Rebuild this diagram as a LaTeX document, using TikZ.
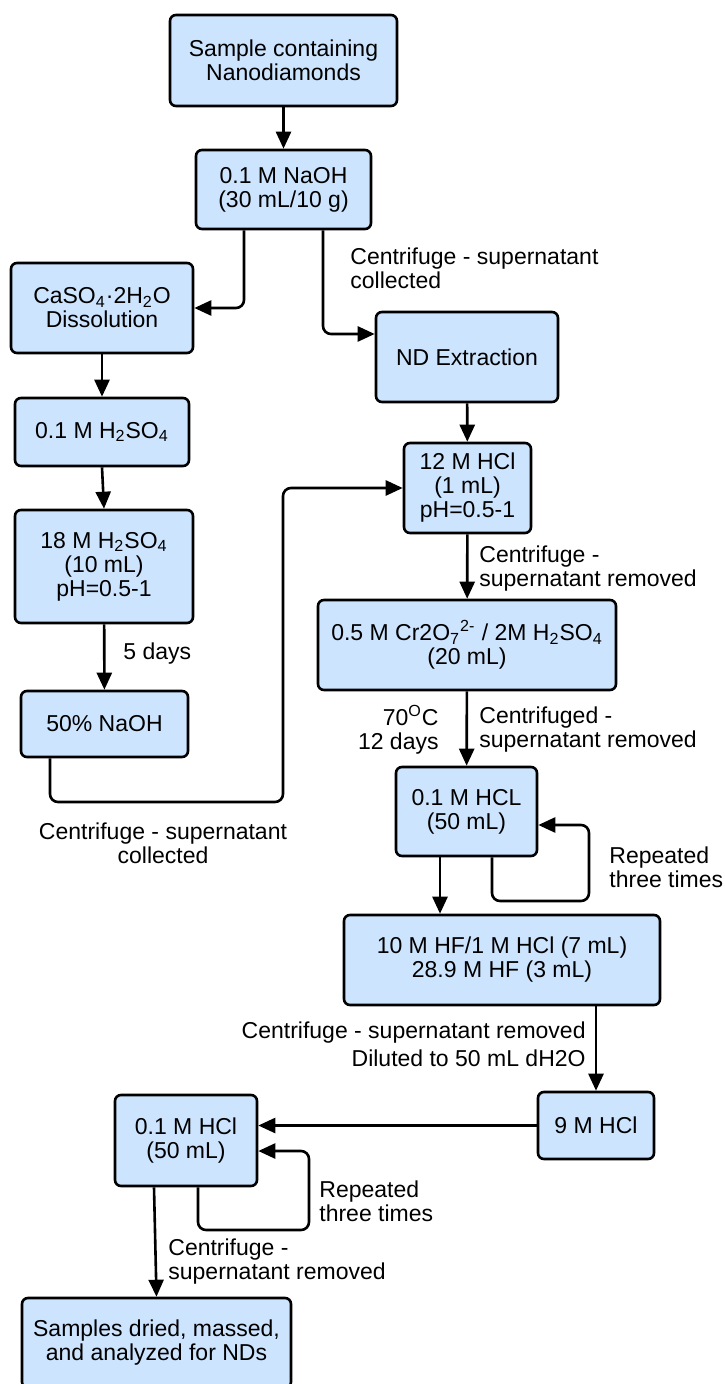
\documentclass[tikz,border=0pt]{standalone}
\usepackage{fontspec}
\setmainfont{Liberation Sans}
\usetikzlibrary{arrows.meta, calc}

\definecolor{boxblue}{RGB}{204,228,253}

\begin{document}
\begin{tikzpicture}[x=0.5pt, y=-0.5pt,
  every node/.style={font=\fontsize{11.5}{12}\selectfont},
  box/.style={draw, line width=1.3pt, rounded corners=3pt, fill=boxblue, align=center, inner sep=0pt},
  flow/.style={line width=1.3pt, rounded corners=4pt, -{Triangle[length=8.5pt,width=7.5pt]}},
  note/.style={align=left, inner sep=0pt, anchor=west}]

\clip (0,0) rectangle (724,1384);
\fill[white] (0,0) rectangle (724,1384);

% start
\node[box, minimum width=113.5pt, minimum height=45.5pt] (sample) at (283.5,60.5) {Sample containing\\Nanodiamonds};
\node[box, minimum width=87.5pt, minimum height=39.5pt] (naoh) at (283.5,189.5) {0.1 M NaOH\\(30 mL/10 g)};

% left branch
\node[box, minimum width=91pt, minimum height=45pt] (caso) at (102,308) {CaSO\textsubscript{4}·2H\textsubscript{2}O\\Dissolution};
\node[box, minimum width=87pt, minimum height=34pt] (hsoa) at (102,432) {0.1 M H\textsubscript{2}SO\textsubscript{4}};
\node[box, minimum width=89pt, minimum height=56.5pt] (hsob) at (104,566.5) {18 M H\textsubscript{2}SO\textsubscript{4}\\(10 mL)\\pH=0.5-1};
\node[box, minimum width=83.5pt, minimum height=33pt] (naohb) at (104.5,724) {50\% NaOH};

% right branch
\node[box, minimum width=91pt, minimum height=45pt] (ndx) at (467,357) {ND Extraction};
\node[box, minimum width=63.5pt, minimum height=45pt] (hcla) at (467.5,488) {12 M HCl\\(1 mL)\\pH=0.5-1};
\node[box, minimum width=149pt, minimum height=45pt] (crox) at (467,645) {0.5 M Cr2O\textsubscript{7}\textsuperscript{2-} / 2M H\textsubscript{2}SO\textsubscript{4}\\(20 mL)};
\node[box, minimum width=70.5pt, minimum height=44.5pt] (hclb) at (466.5,811.5) {0.1 M HCL\\(50 mL)};
\node[box, minimum width=158pt, minimum height=45pt] (hf) at (502,960) {10 M HF/1 M HCl (7 mL)\\28.9 M HF (3 mL)};
\node[box, minimum width=58pt, minimum height=33.5pt] (hclc) at (596,1125.5) {9 M HCl};
\node[box, minimum width=71pt, minimum height=45.5pt] (hcld) at (186,1140.5) {0.1 M HCl\\(50 mL)};
\node[box, minimum width=134.5pt, minimum height=45pt] (dried) at (156.5,1343) {Samples dried, massed,\\and analyzed for NDs};

% corners of the long connectors
\coordinate (back) at (283,802);
\coordinate (loopa) at (589,901);
\coordinate (loopb) at (309,1230);
\coordinate (hfin) at ($(hclb.south)+(-26.5,0)$);

% connectors
\draw[flow] (sample) -- (naoh);
\draw[flow] ($(naoh.south)+(-39.5,0)$) |- (caso.east);
\draw[flow] ($(naoh.south)+(39.5,0)$) |- ($(ndx.west)+(0,-23)$);
\draw[flow] (caso) -- (hsoa);
\draw[flow] (hsoa.south) -- (hsob.north);
\draw[flow] (hsob) -- (naohb);
\draw[flow] ($(naohb.south)+(-54.5,0)$) |- (back) |- (hcla.west);
\draw[flow] (ndx) -- (hcla);
\draw[flow] (hcla) -- (crox);
\draw[flow] (crox) -- (hclb);
\draw[flow] ($(hclb.south)+(25.5,0)$) |- (loopa) |- ($(hclb.east)+(0,13.5)$);
\draw[flow] (hfin) -- (hfin |- hf.north);
\draw[flow] (hclc.north |- hf.south) -- (hclc.north);
\draw[flow] (hclc.west) -- (hclc.west -| hcld.east);
\draw[flow] ($(hcld.south)+(12,0)$) |- (loopb) |- ($(hcld.east)+(0,10.5)$);
\draw[flow] ($(hcld.south)+(-32,0)$) -- (dried.north);

% labels
\node[note] (l1) at (350,268.5) {Centrifuge - supernatant\\collected};
\node[note] (l2) at (123,654) {5 days};
\node[align=center, inner sep=0pt] (l3) at (163,843) {Centrifuge - supernatant\\collected};
\node[note] (l4) at (479,569) {Centrifuge -\\supernatant removed};
\node[align=right, inner sep=0pt, anchor=east] (l5) at (439,729.5) {70\textsuperscript{O}C\\12 days};
\node[note] (l6) at (479,729.5) {Centrifuged -\\supernatant removed};
\node[note] (l7) at (609,867.5) {Repeated\\three times};
\node[align=right, inner sep=0pt, anchor=east] (l8) at (586,1044) {Centrifuge - supernatant removed\\[2pt]Diluted to 50 mL dH2O};
\node[note] (l9) at (319,1201.5) {Repeated\\three times};
\node[note] (l10) at (168,1261.5) {Centrifuge -\\supernatant removed};

\end{tikzpicture}
\end{document}
